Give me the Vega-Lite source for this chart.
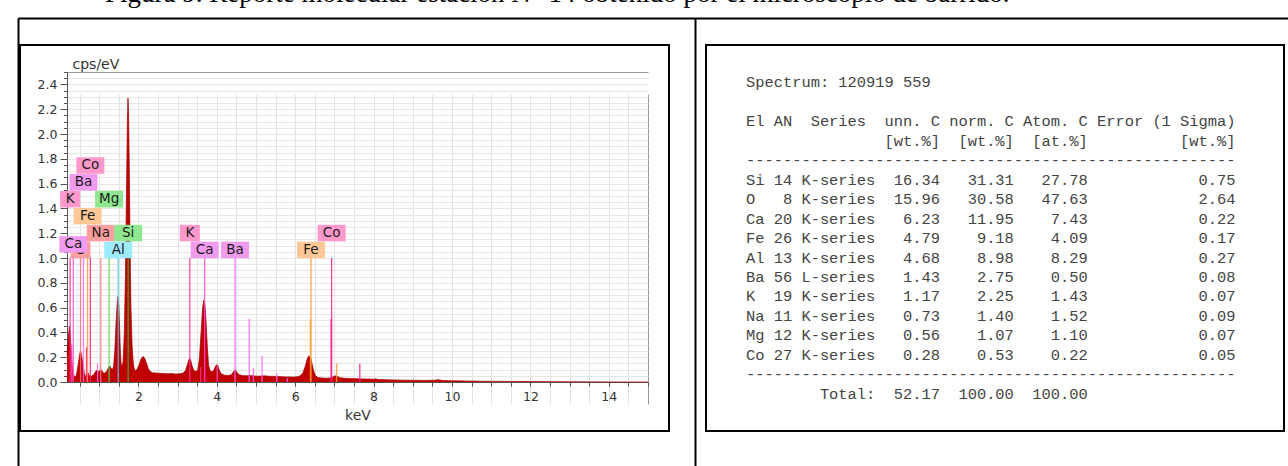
{
  "$schema": "https://vega.github.io/schema/vega-lite/v6.json",
  "padding": {"left": 17, "top": -20, "right": 4, "bottom": 0},
  "background": "white",
  "config": {"view": {"stroke": "#000000", "strokeWidth": 2}, "font": "DejaVu Sans"},
  "title": {
    "text": "Figura 9. Reporte molecular estación N° 14 obtenido por el microscopio de barrido.",
    "anchor": "start", "frame": "bounds", "dx": 88, "offset": -12, "baseline": "alphabetic",
    "font": "Liberation Serif", "fontSize": 27, "fontWeight": "normal", "color": "#000000"
  },
  "datasets": {
    "spectrum": [
      {"keV":0.18,"cps":0.22},{"keV":0.2,"cps":0.3},{"keV":0.22,"cps":0.38},{"keV":0.24,"cps":0.45},{"keV":0.26,"cps":0.41},{"keV":0.28,"cps":0.3},{"keV":0.3,"cps":0.19},{"keV":0.32,"cps":0.11},{"keV":0.34,"cps":0.07},{"keV":0.36,"cps":0.05},{"keV":0.38,"cps":0.04},{"keV":0.4,"cps":0.045},{"keV":0.42,"cps":0.06},{"keV":0.44,"cps":0.09},{"keV":0.47,"cps":0.15},{"keV":0.5,"cps":0.22},{"keV":0.52,"cps":0.245},{"keV":0.54,"cps":0.235},{"keV":0.57,"cps":0.18},{"keV":0.6,"cps":0.11},{"keV":0.63,"cps":0.06},{"keV":0.66,"cps":0.045},{"keV":0.69,"cps":0.06},{"keV":0.72,"cps":0.075},{"keV":0.75,"cps":0.05},{"keV":0.78,"cps":0.045},{"keV":0.82,"cps":0.05},{"keV":0.86,"cps":0.06},{"keV":0.9,"cps":0.08},{"keV":0.94,"cps":0.095},{"keV":0.98,"cps":0.085},{"keV":1.02,"cps":0.09},{"keV":1.05,"cps":0.1},{"keV":1.08,"cps":0.085},{"keV":1.12,"cps":0.07},{"keV":1.16,"cps":0.075},{"keV":1.2,"cps":0.09},{"keV":1.24,"cps":0.12},{"keV":1.27,"cps":0.13},{"keV":1.3,"cps":0.11},{"keV":1.34,"cps":0.1},{"keV":1.37,"cps":0.13},{"keV":1.4,"cps":0.26},{"keV":1.43,"cps":0.47},{"keV":1.46,"cps":0.64},{"keV":1.48,"cps":0.69},{"keV":1.5,"cps":0.62},{"keV":1.52,"cps":0.45},{"keV":1.54,"cps":0.26},{"keV":1.56,"cps":0.15},{"keV":1.58,"cps":0.12},{"keV":1.61,"cps":0.16},{"keV":1.64,"cps":0.38},{"keV":1.67,"cps":0.85},{"keV":1.7,"cps":1.6},{"keV":1.72,"cps":2.1},{"keV":1.735,"cps":2.29},{"keV":1.75,"cps":2.18},{"keV":1.77,"cps":1.7},{"keV":1.79,"cps":1.1},{"keV":1.81,"cps":0.62},{"keV":1.84,"cps":0.3},{"keV":1.87,"cps":0.15},{"keV":1.9,"cps":0.1},{"keV":1.94,"cps":0.09},{"keV":1.98,"cps":0.11},{"keV":2.02,"cps":0.14},{"keV":2.06,"cps":0.18},{"keV":2.1,"cps":0.2},{"keV":2.13,"cps":0.205},{"keV":2.17,"cps":0.185},{"keV":2.21,"cps":0.15},{"keV":2.25,"cps":0.11},{"keV":2.3,"cps":0.085},{"keV":2.36,"cps":0.075},{"keV":2.45,"cps":0.072},{"keV":2.55,"cps":0.07},{"keV":2.65,"cps":0.069},{"keV":2.75,"cps":0.066},{"keV":2.85,"cps":0.068},{"keV":2.95,"cps":0.064},{"keV":3.05,"cps":0.066},{"keV":3.13,"cps":0.07},{"keV":3.2,"cps":0.09},{"keV":3.25,"cps":0.14},{"keV":3.29,"cps":0.18},{"keV":3.31,"cps":0.19},{"keV":3.34,"cps":0.17},{"keV":3.38,"cps":0.12},{"keV":3.42,"cps":0.09},{"keV":3.47,"cps":0.085},{"keV":3.52,"cps":0.1},{"keV":3.56,"cps":0.2},{"keV":3.6,"cps":0.4},{"keV":3.64,"cps":0.6},{"keV":3.67,"cps":0.66},{"keV":3.7,"cps":0.62},{"keV":3.73,"cps":0.47},{"keV":3.76,"cps":0.28},{"keV":3.79,"cps":0.14},{"keV":3.83,"cps":0.09},{"keV":3.88,"cps":0.08},{"keV":3.93,"cps":0.1},{"keV":3.97,"cps":0.13},{"keV":4.0,"cps":0.14},{"keV":4.03,"cps":0.13},{"keV":4.07,"cps":0.09},{"keV":4.12,"cps":0.065},{"keV":4.2,"cps":0.055},{"keV":4.3,"cps":0.052},{"keV":4.38,"cps":0.06},{"keV":4.43,"cps":0.085},{"keV":4.47,"cps":0.1},{"keV":4.51,"cps":0.08},{"keV":4.56,"cps":0.06},{"keV":4.65,"cps":0.052},{"keV":4.75,"cps":0.05},{"keV":4.85,"cps":0.052},{"keV":4.95,"cps":0.049},{"keV":5.05,"cps":0.047},{"keV":5.2,"cps":0.05},{"keV":5.35,"cps":0.046},{"keV":5.5,"cps":0.045},{"keV":5.65,"cps":0.043},{"keV":5.8,"cps":0.041},{"keV":5.95,"cps":0.04},{"keV":6.05,"cps":0.042},{"keV":6.13,"cps":0.05},{"keV":6.2,"cps":0.075},{"keV":6.26,"cps":0.13},{"keV":6.31,"cps":0.19},{"keV":6.35,"cps":0.21},{"keV":6.39,"cps":0.2},{"keV":6.43,"cps":0.15},{"keV":6.47,"cps":0.09},{"keV":6.52,"cps":0.05},{"keV":6.58,"cps":0.036},{"keV":6.7,"cps":0.032},{"keV":6.82,"cps":0.03},{"keV":6.9,"cps":0.033},{"keV":6.97,"cps":0.042},{"keV":7.03,"cps":0.05},{"keV":7.08,"cps":0.045},{"keV":7.14,"cps":0.035},{"keV":7.25,"cps":0.03},{"keV":7.4,"cps":0.028},{"keV":7.55,"cps":0.027},{"keV":7.7,"cps":0.025},{"keV":7.85,"cps":0.024},{"keV":8.0,"cps":0.022},{"keV":8.05,"cps":0.026},{"keV":8.12,"cps":0.02},{"keV":8.3,"cps":0.019},{"keV":8.5,"cps":0.017},{"keV":8.75,"cps":0.015},{"keV":9.0,"cps":0.014},{"keV":9.3,"cps":0.013},{"keV":9.55,"cps":0.014},{"keV":9.65,"cps":0.019},{"keV":9.75,"cps":0.013},{"keV":10.0,"cps":0.01},{"keV":10.4,"cps":0.008},{"keV":10.8,"cps":0.006},{"keV":11.3,"cps":0.005},{"keV":11.8,"cps":0.004},{"keV":12.4,"cps":0.003},{"keV":13.0,"cps":0.002},{"keV":14.0,"cps":0.001},{"keV":15.0,"cps":0.0}
    ],
    "lines": [
      {"el":"K","keV":0.26,"h":1.0},{"el":"Ca","keV":0.302,"h":0.3},{"el":"Ca","keV":0.341,"h":1.0},{"el":"O","keV":0.525,"h":1.0},{"el":"Ba","keV":0.6,"h":1.0},{"el":"Co","keV":0.678,"h":0.28},{"el":"Fe","keV":0.705,"h":1.0},{"el":"Co","keV":0.776,"h":1.0},{"el":"Ba","keV":0.96,"h":0.15},{"el":"Na","keV":1.041,"h":1.0},{"el":"Mg","keV":1.254,"h":1.0},{"el":"Al","keV":1.487,"h":1.0},{"el":"Si","keV":1.74,"h":1.0},{"el":"K","keV":3.313,"h":1.0},{"el":"K","keV":3.59,"h":0.12},{"el":"Ca","keV":3.691,"h":1.0},{"el":"Ca","keV":4.012,"h":0.13},{"el":"Ba","keV":4.466,"h":1.0},{"el":"Ba","keV":4.828,"h":0.51},{"el":"Ba","keV":4.935,"h":0.11},{"el":"Ba","keV":5.156,"h":0.21},{"el":"Ba","keV":5.531,"h":0.07},{"el":"Ba","keV":5.8,"h":0.03},{"el":"Fe","keV":6.39,"h":0.51},{"el":"Fe","keV":6.403,"h":1.0},{"el":"Fe","keV":7.057,"h":0.15},{"el":"Co","keV":6.915,"h":0.51},{"el":"Co","keV":6.93,"h":1.0},{"el":"Co","keV":7.649,"h":0.15}
    ],
    "labels": [
      {"el":"O","keV":0.525,"at":1.065},{"el":"K","keV":0.26,"at":1.474},{"el":"K","keV":3.313,"at":1.201},{"el":"Ca","keV":0.341,"at":1.11},{"el":"Ba","keV":0.6,"at":1.61},{"el":"Fe","keV":0.705,"at":1.338},{"el":"Co","keV":0.776,"at":1.746},{"el":"Na","keV":1.041,"at":1.201},{"el":"Mg","keV":1.254,"at":1.474},{"el":"Al","keV":1.487,"at":1.065},{"el":"Si","keV":1.74,"at":1.201},{"el":"Ca","keV":3.691,"at":1.065},{"el":"Ba","keV":4.466,"at":1.065},{"el":"Fe","keV":6.403,"at":1.065},{"el":"Co","keV":6.93,"at":1.201}
    ],
    "report": [
      {"line":0,"text":"Spectrum:\u00a0120919\u00a0559"},
      {"line":2,"text":"El\u00a0AN\u00a0\u00a0Series\u00a0\u00a0unn.\u00a0C\u00a0norm.\u00a0C\u00a0Atom.\u00a0C\u00a0Error\u00a0(1\u00a0Sigma)"},
      {"line":3,"text":"\u200b\u00a0\u00a0\u00a0\u00a0\u00a0\u00a0\u00a0\u00a0\u00a0\u00a0\u00a0\u00a0\u00a0\u00a0\u00a0[wt.%]\u00a0\u00a0[wt.%]\u00a0\u00a0[at.%]\u00a0\u00a0\u00a0\u00a0\u00a0\u00a0\u00a0\u00a0\u00a0\u00a0[wt.%]"},
      {"line":4,"text":"-----------------------------------------------------"},
      {"line":5,"text":"Si\u00a014\u00a0K-series\u00a0\u00a016.34\u00a0\u00a0\u00a031.31\u00a0\u00a0\u00a027.78\u00a0\u00a0\u00a0\u00a0\u00a0\u00a0\u00a0\u00a0\u00a0\u00a0\u00a0\u00a00.75"},
      {"line":6,"text":"O\u00a0\u00a0\u00a08\u00a0K-series\u00a0\u00a015.96\u00a0\u00a0\u00a030.58\u00a0\u00a0\u00a047.63\u00a0\u00a0\u00a0\u00a0\u00a0\u00a0\u00a0\u00a0\u00a0\u00a0\u00a0\u00a02.64"},
      {"line":7,"text":"Ca\u00a020\u00a0K-series\u00a0\u00a0\u00a06.23\u00a0\u00a0\u00a011.95\u00a0\u00a0\u00a0\u00a07.43\u00a0\u00a0\u00a0\u00a0\u00a0\u00a0\u00a0\u00a0\u00a0\u00a0\u00a0\u00a00.22"},
      {"line":8,"text":"Fe\u00a026\u00a0K-series\u00a0\u00a0\u00a04.79\u00a0\u00a0\u00a0\u00a09.18\u00a0\u00a0\u00a0\u00a04.09\u00a0\u00a0\u00a0\u00a0\u00a0\u00a0\u00a0\u00a0\u00a0\u00a0\u00a0\u00a00.17"},
      {"line":9,"text":"Al\u00a013\u00a0K-series\u00a0\u00a0\u00a04.68\u00a0\u00a0\u00a0\u00a08.98\u00a0\u00a0\u00a0\u00a08.29\u00a0\u00a0\u00a0\u00a0\u00a0\u00a0\u00a0\u00a0\u00a0\u00a0\u00a0\u00a00.27"},
      {"line":10,"text":"Ba\u00a056\u00a0L-series\u00a0\u00a0\u00a01.43\u00a0\u00a0\u00a0\u00a02.75\u00a0\u00a0\u00a0\u00a00.50\u00a0\u00a0\u00a0\u00a0\u00a0\u00a0\u00a0\u00a0\u00a0\u00a0\u00a0\u00a00.08"},
      {"line":11,"text":"K\u00a0\u00a019\u00a0K-series\u00a0\u00a0\u00a01.17\u00a0\u00a0\u00a0\u00a02.25\u00a0\u00a0\u00a0\u00a01.43\u00a0\u00a0\u00a0\u00a0\u00a0\u00a0\u00a0\u00a0\u00a0\u00a0\u00a0\u00a00.07"},
      {"line":12,"text":"Na\u00a011\u00a0K-series\u00a0\u00a0\u00a00.73\u00a0\u00a0\u00a0\u00a01.40\u00a0\u00a0\u00a0\u00a01.52\u00a0\u00a0\u00a0\u00a0\u00a0\u00a0\u00a0\u00a0\u00a0\u00a0\u00a0\u00a00.09"},
      {"line":13,"text":"Mg\u00a012\u00a0K-series\u00a0\u00a0\u00a00.56\u00a0\u00a0\u00a0\u00a01.07\u00a0\u00a0\u00a0\u00a01.10\u00a0\u00a0\u00a0\u00a0\u00a0\u00a0\u00a0\u00a0\u00a0\u00a0\u00a0\u00a00.07"},
      {"line":14,"text":"Co\u00a027\u00a0K-series\u00a0\u00a0\u00a00.28\u00a0\u00a0\u00a0\u00a00.53\u00a0\u00a0\u00a0\u00a00.22\u00a0\u00a0\u00a0\u00a0\u00a0\u00a0\u00a0\u00a0\u00a0\u00a0\u00a0\u00a00.05"},
      {"line":15,"text":"-----------------------------------------------------"},
      {"line":16,"text":"\u200b\u00a0\u00a0\u00a0\u00a0\u00a0\u00a0\u00a0\u00a0Total:\u00a0\u00a052.17\u00a0\u00a0100.00\u00a0\u00a0100.00"}
    ]
  },
  "spacing": 37,
  "bounds": "flush",
  "hconcat": [
    {
      "width": 649,
      "height": 386,
      "resolve": {"axis": {"x": "independent", "y": "independent"}},
      "layer": [
        {
          "data": {"name": "spectrum"},
          "mark": {"type": "area", "color": "#c00000", "opacity": 1, "line": {"color": "#a00000", "strokeWidth": 0.7}},
          "encoding": {
            "x": {
              "field": "keV", "type": "quantitative",
              "scale": {"domain": [0.18, 15], "range": [47, 628], "zero": false, "nice": false},
              "axis": {
                "orient": "bottom", "offset": -49, "tickCount": 30, "labels": false, "title": null,
                "tickSize": 4, "tickColor": "#555555", "domain": true, "domainColor": "#555555",
                "grid": true,
                "gridColor": {"condition": {"test": "datum.value >= 15", "value": "#999999"}, "value": "#e2e2e2"}
              }
            },
            "y": {
              "field": "cps", "type": "quantitative",
              "scale": {"domain": [0, 2.5], "range": [337, 27], "zero": false, "nice": false},
              "axis": {
                "orient": "left", "offset": -47, "tickCount": 50, "labels": false, "title": null,
                "tickSize": 3.5, "tickColor": "#555555", "domain": true, "domainColor": "#555555",
                "grid": true,
                "gridColor": {"condition": {"test": "datum.value >= 2.5", "value": "#999999"}, "value": "#e6e6e6"}
              }
            }
          }
        },
        {
          "data": {"name": "lines"},
          "mark": {"type": "rule", "strokeWidth": 1.3, "opacity": 0.85},
          "encoding": {
            "x": {"field": "keV", "type": "quantitative",
              "axis": {
                "orient": "bottom", "offset": -49,
                "values": [2,4,6,8,10,12,14], "format": "d",
                "labelFont": "DejaVu Sans", "labelFontSize": 12.5, "labelColor": "#333333", "labelPadding": 4,
                "labelOverlap": false, "labelFlush": false,
                "tickSize": 4, "tickColor": "#555555", "domain": false, "grid": false,
                "title": "keV", "titleFont": "DejaVu Sans", "titleFontSize": 14, "titleFontWeight": "normal", "titleColor": "#333333",
                "titleY": 37, "titleBaseline": "alphabetic"
              }
            },
            "y": {"field": "h", "type": "quantitative",
              "axis": {
                "orient": "left", "offset": -47,
                "values": [0,0.2,0.4,0.6,0.8,1,1.2,1.4,1.6,1.8,2,2.2,2.4], "format": ".1f",
                "labelFont": "DejaVu Sans", "labelFontSize": 12.5, "labelColor": "#333333", "labelPadding": 3,
                "labelOverlap": false, "labelFlush": false,
                "tickSize": 7, "tickColor": "#555555", "domain": false, "grid": false,
                "title": "cps/eV", "titleAngle": 0, "titleAlign": "left", "titleBaseline": "alphabetic",
                "titleX": 5, "titleY": 23, "titleFont": "DejaVu Sans", "titleFontSize": 14, "titleFontWeight": "normal", "titleColor": "#333333"
              }
            },
            "y2": {"datum": 0},
            "stroke": {"field": "el", "type": "nominal", "legend": null,
              "scale": {"domain": ["K","Ca","O","Ba","Fe","Co","Na","Mg","Al","Si"],
                        "range": ["#ff2d95","#ff4fd0","#ff6f6f","#ff66ff","#ff9a2e","#ff1a8c","#ff7a7a","#55dd55","#55c8e8","#33bb33"]}}
          }
        },
        {
          "data": {"name": "labels"},
          "transform": [{"filter": "datum.el == 'O'"}],
          "mark": {"type": "point", "shape": "M-1,-0.825H1V0.825H-1Z", "size": 400, "filled": true, "opacity": 1, "strokeWidth": 0},
          "encoding": {
            "x": {"field": "keV", "type": "quantitative", "axis": null},
            "y": {"field": "at", "type": "quantitative", "axis": null},
            "fill": {"field": "el", "type": "nominal", "legend": null,
              "scale": {"domain": ["K","Ca","O","Ba","Fe","Co","Na","Mg","Al","Si"],
                        "range": ["#ff99cc","#f09af0","#ff9f9f","#f09af0","#ffc896","#ff99cc","#ff9f9f","#8fe88f","#9eecff","#8fe88f"]}}
          }
        },
        {
          "data": {"name": "labels"},
          "transform": [{"filter": "datum.el == 'O'"}],
          "mark": {"type": "text", "font": "DejaVu Sans", "fontSize": 13.5, "color": "#1a1a1a", "align": "center", "baseline": "middle"},
          "encoding": {
            "x": {"field": "keV", "type": "quantitative", "axis": null},
            "y": {"field": "at", "type": "quantitative", "axis": null},
            "text": {"field": "el"}
          }
        },
        {
          "data": {"name": "labels"},
          "transform": [{"filter": "datum.el == 'K'"}],
          "mark": {"type": "point", "shape": "M-1,-0.825H1V0.825H-1Z", "size": 400, "filled": true, "opacity": 1, "strokeWidth": 0},
          "encoding": {
            "x": {"field": "keV", "type": "quantitative", "axis": null},
            "y": {"field": "at", "type": "quantitative", "axis": null},
            "fill": {"field": "el", "type": "nominal", "legend": null}
          }
        },
        {
          "data": {"name": "labels"},
          "transform": [{"filter": "length(datum.el) == 2"}],
          "mark": {"type": "point", "shape": "M-1,-0.59H1V0.59H-1Z", "size": 784, "filled": true, "opacity": 1, "strokeWidth": 0},
          "encoding": {
            "x": {"field": "keV", "type": "quantitative", "axis": null},
            "y": {"field": "at", "type": "quantitative", "axis": null},
            "fill": {"field": "el", "type": "nominal", "legend": null}
          }
        },
        {
          "data": {"name": "labels"},
          "transform": [{"filter": "datum.el != 'O'"}],
          "mark": {"type": "text", "font": "DejaVu Sans", "fontSize": 13.5, "color": "#1a1a1a", "align": "center", "baseline": "middle"},
          "encoding": {
            "x": {"field": "keV", "type": "quantitative", "axis": null},
            "y": {"field": "at", "type": "quantitative", "axis": null},
            "text": {"field": "el"}
          }
        }
      ]
    },
    {
      "width": 578,
      "height": 386,
      "data": {"name": "report"},
      "layer": [
        {
          "transform": [{"filter": "datum.line < 5 || datum.line > 14"}],
          "mark": {"type": "text", "font": "Liberation Mono", "fontSize": 15.4, "color": "#444444", "align": "left", "baseline": "middle"},
          "encoding": {
            "x": {"datum": 0, "type": "quantitative",
              "scale": {"domain": [-78.7027, 58.8108], "range": [-688, 584], "zero": false, "nice": false},
              "axis": {"orient": "top", "offset": 27, "ticks": false, "labels": false, "grid": false, "title": null,
                       "domainColor": "#000000", "domainWidth": 2, "minExtent": 0}},
            "y": {"field": "line", "type": "quantitative",
              "scale": {"domain": [-3.2821, 20.4103], "range": [-27, 435], "zero": false, "nice": false},
              "axis": {"orient": "left", "offset": 11, "ticks": false, "labels": false, "grid": false, "title": null,
                       "domainColor": "#000000", "domainWidth": 2, "minExtent": 0}},
            "text": {"field": "text"}
          }
        },
        {
          "transform": [{"filter": "datum.line >= 5 && datum.line <= 14"}],
          "mark": {"type": "text", "font": "Liberation Mono", "fontSize": 15.4, "color": "#444444", "align": "left", "baseline": "middle"},
          "encoding": {
            "x": {"datum": 0, "type": "quantitative",
              "axis": {"orient": "top", "offset": 27, "ticks": false, "labels": false, "grid": false, "title": null,
                       "domainColor": "#000000", "domainWidth": 2, "minExtent": 0}},
            "y": {"field": "line", "type": "quantitative",
              "axis": {"orient": "right", "offset": -1266, "ticks": false, "labels": false, "grid": false, "title": null,
                       "domainColor": "#000000", "domainWidth": 2, "minExtent": 0}},
            "text": {"field": "text"}
          }
        }
      ],
      "resolve": {"axis": {"y": "independent"}}
    }
  ]
}
